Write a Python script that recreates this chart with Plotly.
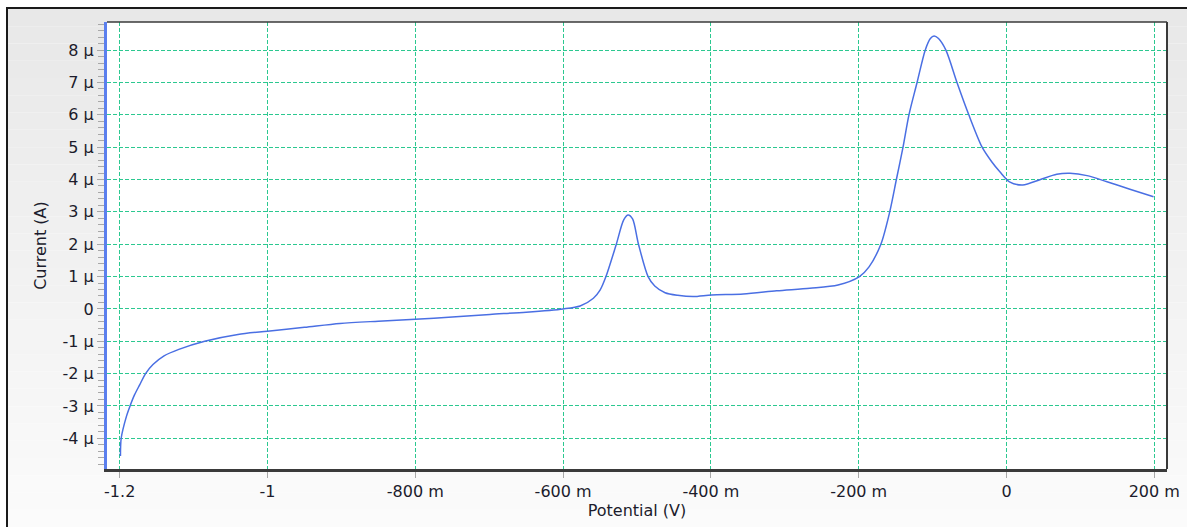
import plotly.graph_objects as go

# ---- data (potential in V, current in µA) ----
potential = [-1.199, -1.198, -1.191, -1.186, -1.180, -1.173, -1.165, -1.155, -1.140, -1.120,
             -1.085, -1.040, -1.0, -0.950, -0.902, -0.85, -0.8, -0.75, -0.699, -0.65,
             -0.6, -0.577, -0.559, -0.550, -0.542, -0.528, -0.518, -0.512, -0.506, -0.498,
             -0.485, -0.476, -0.462, -0.445, -0.424, -0.399, -0.356, -0.311, -0.266, -0.228,
             -0.199, -0.186, -0.170, -0.158, -0.149, -0.140, -0.132, -0.121, -0.110, -0.103,
             -0.098, -0.092, -0.082, -0.067, -0.051, -0.033, -0.020, -0.009, 0.004,
             0.022, 0.046, 0.068, 0.086, 0.109, 0.136, 0.167, 0.199]
current_uA = [-4.55, -4.0, -3.33, -3.0, -2.66, -2.35, -2.0, -1.72, -1.45, -1.25,
              -1.0, -0.79, -0.69, -0.57, -0.45, -0.38, -0.32, -0.25, -0.17, -0.10,
              0.0, 0.09, 0.33, 0.58, 1.0, 2.0, 2.75, 2.90, 2.78, 2.0,
              1.0, 0.71, 0.50, 0.42, 0.38, 0.43, 0.46, 0.56, 0.64, 0.74,
              1.0, 1.3, 2.0, 3.0, 4.0, 5.0, 6.0, 7.0, 8.0, 8.36,
              8.44, 8.36, 8.0, 7.0, 6.0, 5.0, 4.55, 4.24, 3.93,
              3.83, 4.00, 4.16, 4.19, 4.12, 3.93, 3.70, 3.47]

x_tickvals = [-1.2, -1.0, -0.8, -0.6, -0.4, -0.2, 0.0, 0.2]
x_ticktext = ["-1.2", "-1", "-800 m", "-600 m", "-400 m", "-200 m", "0", "200 m"]
y_tickvals = [-4, -3, -2, -1, 0, 1, 2, 3, 4, 5, 6, 7, 8]
y_ticktext = ["-4 µ", "-3 µ", "-2 µ", "-1 µ", "0", "1 µ", "2 µ", "3 µ", "4 µ", "5 µ", "6 µ", "7 µ", "8 µ"]

W, H = 1187, 527
ML, MR, MT, MB = 107, 20, 22, 58
PW, PH = W - ML - MR, H - MT - MB

def px2paper_x(px):
    return (px - ML) / PW

def py2paper_y(py):
    return (H - MB - py) / PH

FONT = "DejaVu Sans"
TXT = "#1c1c2c"
GRID = "#2cc890"

fig = go.Figure()
fig.add_trace(go.Scatter(
    x=potential, y=current_uA, mode="lines",
    line=dict(color="#4a6fe3", width=1.5, shape="spline", smoothing=0.8),
    showlegend=False, hoverinfo="skip",
))

shapes = []
# gradient background inside frame
n = 30
top_py, bot_py = 9, 527
for i in range(n):
    a = top_py + (bot_py - top_py) * i / n
    b = top_py + (bot_py - top_py) * (i + 1) / n
    t = i / (n - 1)
    c0, c1 = 0xe8, 0xfb
    v = int(round(c0 + (c1 - c0) * t))
    col = f"rgb({v},{v},{v})"
    shapes.append(dict(type="rect", xref="paper", yref="paper", layer="below",
                       x0=px2paper_x(8), x1=px2paper_x(1200),
                       y0=py2paper_y(b), y1=py2paper_y(a),
                       fillcolor=col, line=dict(width=0)))
# white plot area
shapes.append(dict(type="rect", xref="paper", yref="paper", layer="below",
                   x0=0, x1=1, y0=0, y1=1, fillcolor="white", line=dict(width=0)))
# outer frame
shapes.append(dict(type="rect", xref="paper", yref="paper", layer="above",
                   x0=px2paper_x(7), x1=px2paper_x(1200),
                   y0=py2paper_y(540), y1=py2paper_y(8),
                   fillcolor="rgba(0,0,0,0)", line=dict(color="#1a1a1a", width=2)))
# top and right border of plot area
shapes.append(dict(type="line", xref="paper", yref="paper", layer="above",
                   x0=0, x1=1, y0=1, y1=1, line=dict(color="#3a3a3a", width=1.5)))
shapes.append(dict(type="line", xref="paper", yref="paper", layer="above",
                   x0=1, x1=1, y0=0, y1=1, line=dict(color="#3a3a3a", width=2)))

fig.update_layout(
    width=W, height=H,
    margin=dict(l=ML, r=MR, t=MT, b=MB),
    paper_bgcolor="white",
    plot_bgcolor="white",
    shapes=shapes,
    font=dict(family=FONT, size=16, color=TXT),
    xaxis=dict(
        range=[-1.2172, 0.2172], tickmode="array", tickvals=x_tickvals, ticktext=x_ticktext,
        showgrid=True, gridcolor=GRID, gridwidth=1, griddash="4px,2px",
        zeroline=False, showline=True, linecolor="#3a3a3a", linewidth=2.5,
        ticks="outside", ticklen=6, tickcolor="#a8a8a8", tickwidth=1,
        tickfont=dict(family=FONT, size=16, color=TXT),
        title=dict(text="Potential (V)", font=dict(family=FONT, size=16, color=TXT), standoff=4),
        automargin=False,
    ),
    yaxis=dict(
        range=[-4.95, 8.87], tickmode="array", tickvals=y_tickvals, ticktext=y_ticktext,
        showgrid=True, gridcolor=GRID, gridwidth=1, griddash="4px,2px",
        zeroline=False, showline=True, linecolor="#5b7fee", linewidth=3,
        ticks="outside", ticklen=7, tickcolor="#a8a8a8", tickwidth=1,
        minor=dict(tickmode="linear", tick0=0, dtick=0.2, ticks="outside", ticklen=6,
                   tickcolor="#a8a8a8", tickwidth=1, showgrid=False),
        tickfont=dict(family=FONT, size=16, color=TXT),
        title=dict(text="Current (A)", font=dict(family=FONT, size=16, color=TXT), standoff=12),
        automargin=False,
    ),
)

fig.write_html("out.html")
